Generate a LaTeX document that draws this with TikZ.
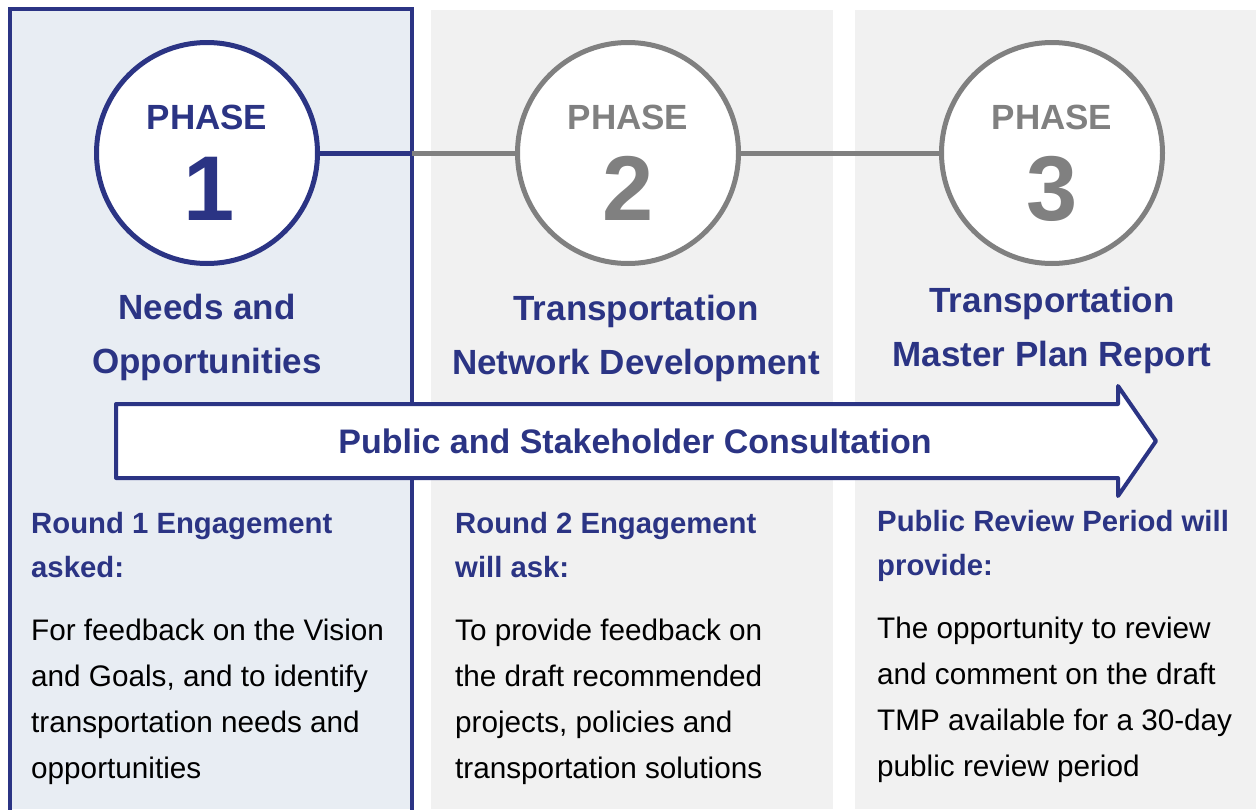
\documentclass[tikz,border=0pt]{standalone}
\usepackage{fontspec}
\setmainfont{Liberation Sans}
\definecolor{navy}{HTML}{2B3484}
\definecolor{midgray}{HTML}{808080}
\definecolor{paleblue}{HTML}{E8EDF3}
\definecolor{palegray}{HTML}{F1F1F1}
\begin{document}
\begin{tikzpicture}[x=1pt,y=-1pt,
  phasecircle/.style={circle,draw,line width=5pt,fill=white,minimum size=221pt,inner sep=0pt},
  linkline/.style={line width=5pt},
  phaseword/.style={font=\bfseries\fontsize{35}{35}\selectfont,anchor=base,inner sep=0pt},
  phasenum/.style={font=\bfseries\fontsize{92}{92}\selectfont,anchor=base,inner sep=0pt},
  titletext/.style={font=\bfseries\fontsize{35}{54}\selectfont,text=navy,align=center,anchor=base,inner sep=0pt},
  headtext/.style={font=\bfseries\fontsize{29.3}{44}\selectfont,text=navy,align=left,anchor=base west,inner sep=0pt},
  bodytext/.style={font=\fontsize{29.7}{46}\selectfont,text=black,align=left,anchor=base west,inner sep=0pt},
]
\useasboundingbox (0,0) rectangle (1256,809);
\fill[white] (0,0) rectangle (1256,809);
% panels
\fill[palegray] (431,10) rectangle (833,809);
\fill[palegray] (855,10) rectangle (1256,809);
\fill[paleblue] (10,9) rectangle (412,809);
\draw[navy,line width=4pt] (10,812) -- (10,9) -- (412,9) -- (412,812);
% circles
\node[phasecircle,draw=navy] (c1) at (207,153) {};
\node[phasecircle,draw=midgray] (c2) at (628,153) {};
\node[phasecircle,draw=midgray] (c3) at (1052,153) {};
\coordinate (split) at (412,153);
\draw[linkline,navy] (c1.east) -- (split);
\draw[linkline,midgray] (split) -- (c2.west);
\draw[linkline,midgray] (c2.east) -- (c3.west);
% circle texts
\node[phaseword,text=navy] (p1) at (207,129) {PHASE};
\node[phasenum,text=navy] (n1) at (209,220) {1};
\node[phaseword,text=midgray] (p2) at (628,129) {PHASE};
\node[phasenum,text=midgray] (n2) at (628,220) {2};
\node[phaseword,text=midgray] (p3) at (1052,129) {PHASE};
\node[phasenum,text=midgray] (n3) at (1052,220) {3};
% titles (anchor at baseline of last line)
\node[titletext] (t1) at (207,373) {Needs and\\Opportunities};
\node[titletext] (t2) at (636,374) {Transportation\\Network Development};
\node[titletext] (t3) at (1052,366) {Transportation\\Master Plan Report};
% arrow
\draw[navy,line width=4pt,fill=white,line join=round]
  (116,404) -- (1118,404) -- (1118,386) -- (1156,441) -- (1118,496) -- (1118,478) -- (116,478) -- cycle;
\node[font=\bfseries\fontsize{34}{34}\selectfont,text=navy,inner sep=0pt] (arr) at (635,441) {Public and Stakeholder Consultation};
% headings
\node[headtext] (h1) at (31,577) {Round 1 Engagement\\asked:};
\node[headtext] (h2) at (455,577) {Round 2 Engagement\\will ask:};
\node[headtext] (h3) at (877,575) {Public Review Period will\\provide:};
% bodies
\node[bodytext] (b1) at (31,778) {For feedback on the Vision\\and Goals, and to identify\\transportation needs and\\opportunities};
\node[bodytext] (b2) at (455,778) {To provide feedback on\\the draft recommended\\projects, policies and\\transportation solutions};
\node[bodytext] (b3) at (877,776) {The opportunity to review\\and comment on the draft\\TMP available for a 30-day\\public review period};
\end{tikzpicture}
\end{document}
